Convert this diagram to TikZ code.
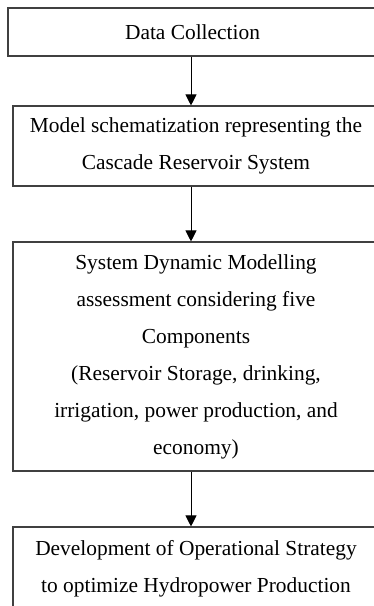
\documentclass[tikz,border=0pt]{standalone}
\usepackage{fontspec}
\setmainfont{Liberation Serif}
\usetikzlibrary{arrows.meta}

\begin{document}
\begin{tikzpicture}[x=1pt,y=-1pt,
		stage/.style={draw=black!75,line width=1.1pt,align=center,inner sep=0pt,
			font=\fontsize{21.4}{37}\selectfont},
		flow/.style={-{Triangle[width=11pt,length=11pt]},line width=0.9pt}]
	\clip (0,0) rectangle (374,606);
	% the four stages, top to bottom
	\node[stage,minimum width=372pt,minimum height=48pt] (collect) at (194,32) {\kern-3pt Data Collection};
	\node[stage,minimum width=366pt,minimum height=80pt] (model) at (196,146)
		{Model schematization representing the\\Cascade Reservoir System};
	\node[stage,minimum width=366pt,minimum height=229pt] (sdm) at (196,356.5)
		{System Dynamic Modelling\\assessment considering five\\Components\\(Reservoir Storage, drinking,\\irrigation, power production, and\\economy)};
	\node[stage,minimum width=366pt,minimum height=84pt] (strategy) at (196,569)
		{Development of Operational Strategy\\to optimize Hydropower Production};
	% arrows between them
	\coordinate (spine) at (191,0);
	\draw[flow] (collect.south -| spine) -- (model.north -| spine);
	\draw[flow] (model.south -| spine) -- (sdm.north -| spine);
	\draw[flow] (sdm.south -| spine) -- (strategy.north -| spine);
\end{tikzpicture}
\end{document}
